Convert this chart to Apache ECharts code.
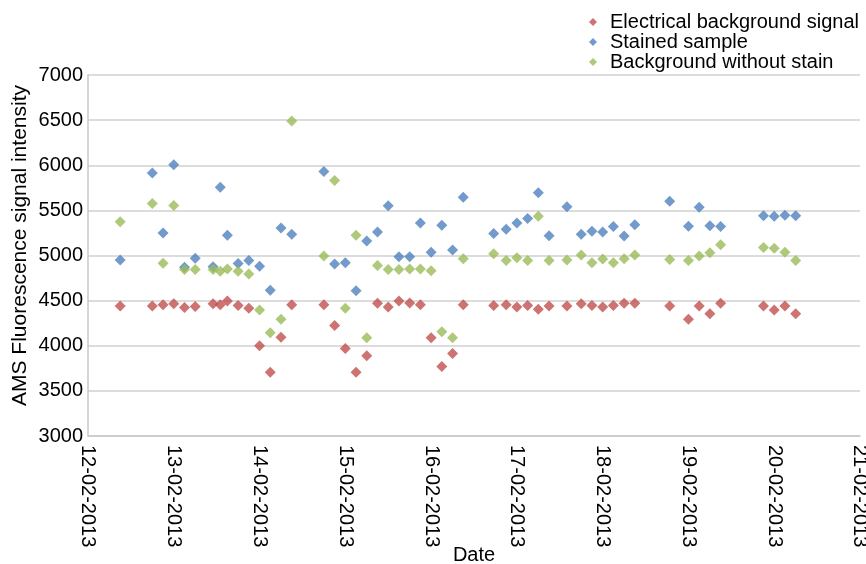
<!DOCTYPE html>
<html>
<head>
<meta charset="utf-8">
<title>AMS fluorescence signal</title>
<script src="https://cdn.jsdelivr.net/npm/echarts@6/dist/echarts.min.js"></script>
<style>
  html, body { margin: 0; padding: 0; background: #fff; }
  #chart { width: 866px; height: 564px; }
</style>
</head>
<body>
<div id="chart"></div>
<script>
// measurement times (UTC), one per sample
var times = [
  '2013-02-12 09:00', '2013-02-12 18:00', '2013-02-12 21:00',
  '2013-02-13 00:00', '2013-02-13 03:00', '2013-02-13 06:00', '2013-02-13 11:00',
  '2013-02-13 13:00', '2013-02-13 15:00', '2013-02-13 18:00', '2013-02-13 21:00',
  '2013-02-14 00:00', '2013-02-14 03:00', '2013-02-14 06:00', '2013-02-14 09:00',
  '2013-02-14 18:00', '2013-02-14 21:00',
  '2013-02-15 00:00', '2013-02-15 03:00', '2013-02-15 06:00', '2013-02-15 09:00',
  '2013-02-15 12:00', '2013-02-15 15:00', '2013-02-15 18:00', '2013-02-15 21:00',
  '2013-02-16 00:00', '2013-02-16 03:00', '2013-02-16 06:00', '2013-02-16 09:00',
  '2013-02-16 17:30', '2013-02-16 21:00',
  '2013-02-17 00:00', '2013-02-17 03:00', '2013-02-17 06:00', '2013-02-17 09:00',
  '2013-02-17 14:00', '2013-02-17 18:00', '2013-02-17 21:00',
  '2013-02-18 00:00', '2013-02-18 03:00', '2013-02-18 06:00', '2013-02-18 09:00',
  '2013-02-18 18:45',
  '2013-02-19 00:00', '2013-02-19 03:00', '2013-02-19 06:00', '2013-02-19 09:00',
  '2013-02-19 21:00',
  '2013-02-20 00:00', '2013-02-20 03:00', '2013-02-20 06:00'
]

var electrical = [
  4440, 4440, 4455,
  4465, 4425, 4435, 4465, 4455, 4495, 4445, 4415,
  4000, 3705, 4095, 4455, 4455, 4225,
  3970, 3705, 3890, 4470, 4430, 4495, 4475, 4455,
  4090, 3770, 3915, 4455, 4445, 4455,
  4430, 4445, 4405, 4440, 4440, 4465, 4445,
  4430, 4445, 4470, 4470, 4440,
  4295, 4440, 4355, 4470, 4440,
  4395, 4440, 4355
]

var stained = [
  4950, 5915, 5250,
  6005, 4870, 4970, 4875, 5755, 5225, 4910, 4945,
  4880, 4615, 5305, 5235, 5930, 4905,
  4920, 4610, 5160, 5260, 5550, 4985, 4985, 5360,
  5035, 5335, 5060, 5645, 5245, 5290,
  5360, 5410, 5695, 5220, 5540, 5235, 5270,
  5260, 5320, 5215, 5340, 5600,
  5325, 5535, 5330, 5320, 5440,
  5435, 5445, 5440
]

var noStain = [
  5375, 5575, 4915,
  5555, 4845, 4845, 4845, 4825, 4850, 4825, 4795,
  4395, 4145, 4295, 6490, 4995, 5830,
  4415, 5225, 4090, 4890, 4845, 4845, 4850, 4850,
  4830, 4155, 4090, 4965, 5020, 4945,
  4975, 4945, 5435, 4945, 4950, 5005, 4920,
  4960, 4920, 4965, 5005, 4955,
  4945, 4995, 5030, 5120, 5090,
  5080, 5035, 4945
]

var seriesNames = ['Electrical background signal', 'Stained sample', 'Background without stain']
var seriesColors = ['#C0504D', '#4F81BD', '#9BBB59']

var DAY = 86400000
var xMin = Date.UTC(2013, 1, 12)
var xMax = Date.UTC(2013, 1, 21)

function toUTC(s) {
  var p = s.split(/[- :]/)
  return Date.UTC(+p[0], +p[1] - 1, +p[2], +p[3], +p[4])
}

function pad(n) {
  return n < 10 ? '0' + n : '' + n
}

function makeSeries(name, values, color) {
  return {
    name: name,
    type: 'scatter',
    symbol: 'diamond',
    symbolSize: 11,
    itemStyle: { color: color },
    data: times.map(function(t, i) {
      return [toUTC(t), values[i]]
    })
  }
}

var font = 'Liberation Sans, Arial, sans-serif'
var chart = echarts.init(document.getElementById('chart'))
chart.setOption({
  backgroundColor: '#fff',
  animation: false,
  textStyle: { fontFamily: font },
  legend: {
    orient: 'vertical',
    right: 2,
    top: 7,
    icon: 'diamond',
    itemWidth: 8,
    itemHeight: 8,
    itemGap: 0,
    data: seriesNames,
    textStyle: { fontSize: 20, lineHeight: 20, color: '#000', fontFamily: font, padding: [0, 0, 0, 8] }
  },
  grid: {
    left: 88,
    right: 6,
    top: 75,
    bottom: 128,
    outerBoundsMode: 'none'
  },
  xAxis: {
    type: 'value',
    min: xMin,
    max: xMax,
    interval: DAY,
    name: 'Date',
    nameLocation: 'middle',
    nameGap: 109,
    nameMoveOverlap: false,
    nameTextStyle: { fontSize: 20, color: '#000', fontFamily: font },
    axisLine: { lineStyle: { color: '#c8c8c8', width: 1.5 } },
    axisTick: { show: false },
    splitLine: { show: false },
    axisLabel: {
      rotate: -90,
      margin: 9,
      fontSize: 20,
      color: '#000',
      fontFamily: font,
      formatter: function(value) {
        var d = new Date(value)
        return pad(d.getUTCDate()) + '-' + pad(d.getUTCMonth() + 1) + '-' + d.getUTCFullYear()
      }
    }
  },
  yAxis: {
    type: 'value',
    min: 3000,
    max: 7000,
    interval: 500,
    name: 'AMS Fluorescence signal intensity',
    nameLocation: 'middle',
    nameGap: 57,
    nameMoveOverlap: false,
    nameTextStyle: { fontSize: 21, color: '#000', fontFamily: font, padding: [0, 0, 0, 20] },
    axisLine: { show: true, lineStyle: { color: '#c8c8c8', width: 1.5 } },
    axisTick: { show: false },
    axisLabel: {
      margin: 5,
      fontSize: 20,
      color: '#000',
      fontFamily: font,
      formatter: function(value) {
        return String(value)
      }
    },
    splitLine: { lineStyle: { color: '#d0d0d0', width: 1.5 } }
  },
  series: [
    makeSeries(seriesNames[0], electrical, seriesColors[0]),
    makeSeries(seriesNames[1], stained, seriesColors[1]),
    makeSeries(seriesNames[2], noStain, seriesColors[2])
  ]
})
</script>
</body>
</html>
